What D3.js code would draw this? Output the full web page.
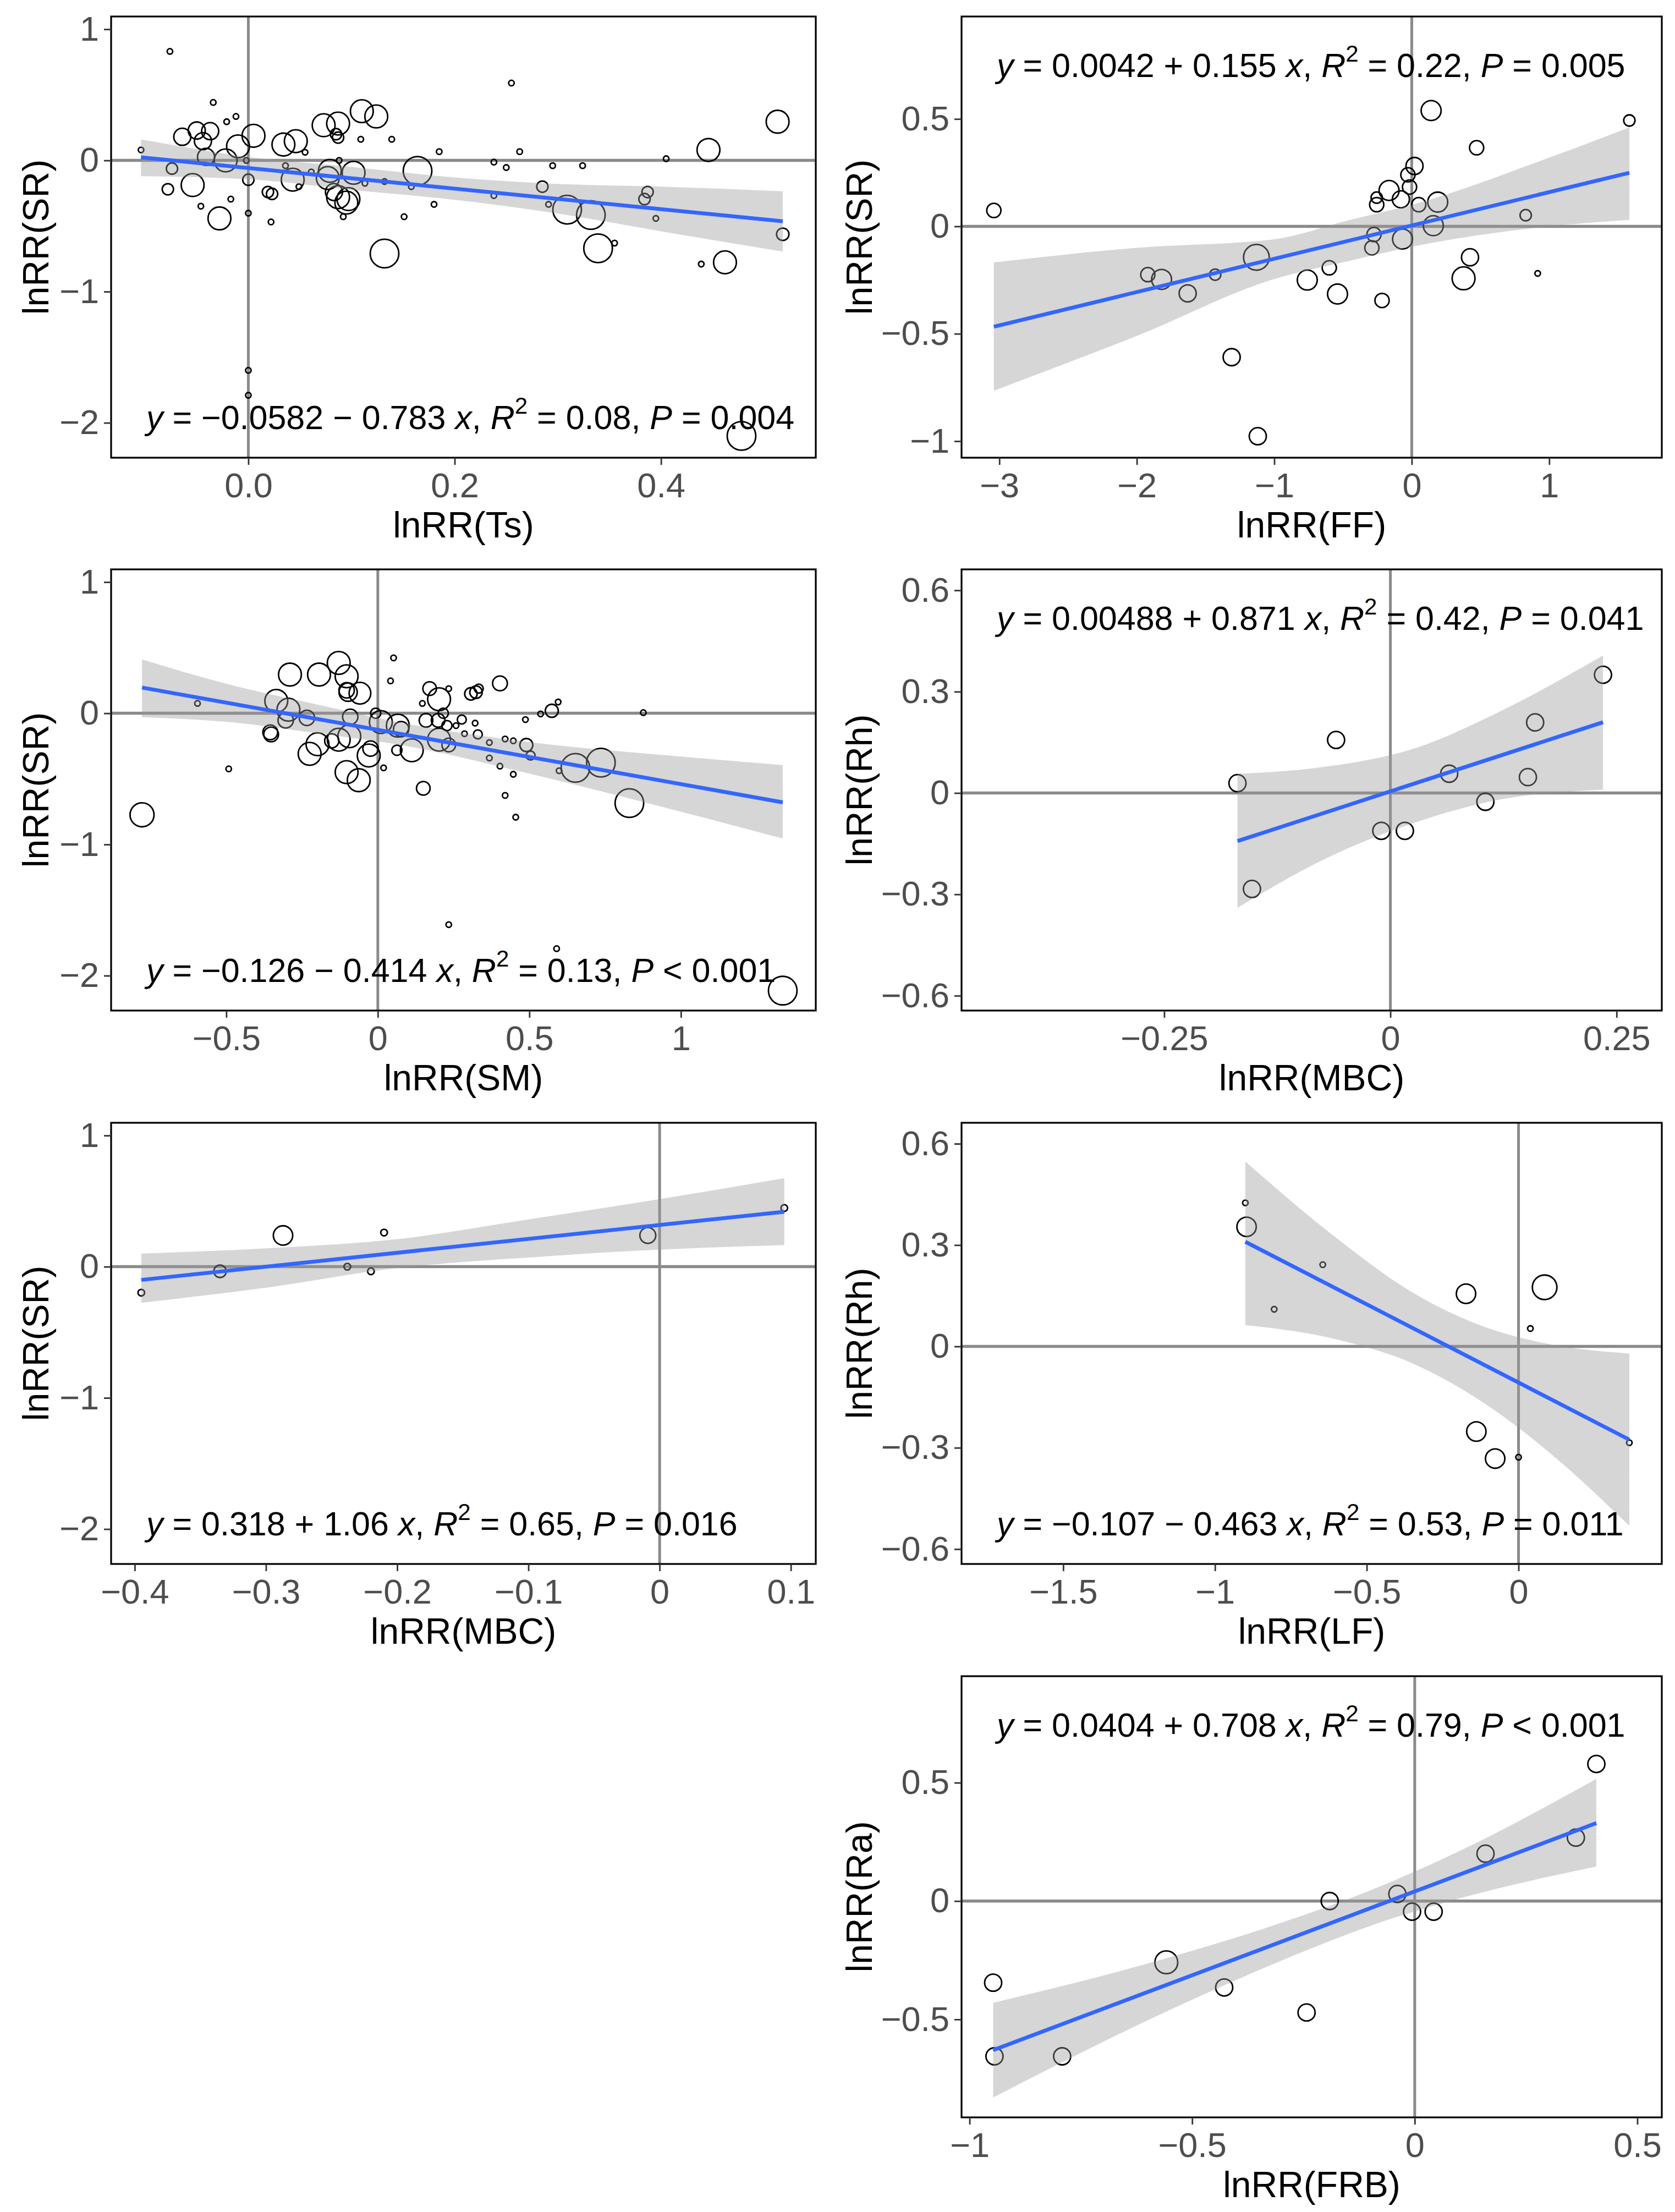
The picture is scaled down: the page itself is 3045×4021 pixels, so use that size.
<!DOCTYPE html>
<html>
<head>
<meta charset="utf-8">
<script src="https://cdn.jsdelivr.net/npm/d3@7"></script>
<style>
  body { margin: 0; background: #fff; }
  text { font-family: "Liberation Sans", Arial, sans-serif; }
</style>
</head>
<body>
<svg id="fig" width="3045" height="4021"></svg>
<script>
// ---- data ----
// panel 1: lnRR(Ts) vs lnRR(SR)
var tsX = [-0.076,-0.104,-0.034,-0.021,-0.012,-0.064,-0.050,-0.037,-0.044,-0.041,
  -0.022,-0.010,0.005,-0.002,0.0,-0.074,-0.078,-0.054,-0.046,-0.017,
  -0.028,0.0,0.0,0.0,0.022,0.019,0.023,0.034,0.046,0.036,
  0.043,0.049,0.055,0.061,0.073,0.087,0.085,0.087,0.088,0.079,
  0.077,0.083,0.087,0.095,0.097,0.092,0.102,0.113,0.109,0.110,
  0.124,0.139,0.132,0.132,0.151,0.164,0.158,0.180,0.185,0.255,
  0.238,0.250,0.238,0.263,0.285,0.295,0.291,0.309,0.324,0.332,
  0.339,0.355,0.387,0.384,0.395,0.405,0.446,0.439,0.462,0.513,
  0.518,0.478];
var tsY = [0.831,0.080,0.442,0.295,0.335,0.180,0.228,0.223,0.147,0.027,
  0.0,0.107,0.188,0.0,-0.147,-0.062,-0.220,-0.188,-0.349,-0.295,
  -0.442,-0.402,-1.60,-1.79,-0.469,-0.241,-0.255,0.121,0.147,-0.040,
  -0.147,-0.200,0.062,-0.088,0.268,0.281,0.200,0.174,0.0,-0.080,
  -0.134,-0.241,-0.280,-0.322,-0.295,-0.429,-0.094,-0.174,0.161,0.375,
  0.335,0.161,-0.710,-0.161,-0.429,-0.080,-0.200,-0.335,0.067,0.590,
  -0.013,-0.054,-0.268,0.067,-0.200,-0.040,-0.335,-0.375,-0.040,-0.416,
  -0.670,-0.630,-0.241,-0.295,-0.442,0.013,0.080,-0.790,-0.777,0.295,
  -0.563,-2.10];
var tsW = [1,1,1,1,1,3,3,3,3,3, 4,4,4,1,2,2,2,4,1,1, 4,1,1,1,1,2,2,4,4,1,
  4,1,1,1,4,4,2,2,1,4, 4,3,4,4,4,1,4,1,1,4, 4,1,5,1,1,5,1,1,1,1,
  1,1,1,1,2,1,1,5,1,5, 5,1,2,2,1,1,4,1,4,4, 2.2,5];

// panel 2: lnRR(FF) vs lnRR(SR)
var ffX = [-3.04,-1.92,-1.82,-1.63,-1.43,-1.13,-1.31,-1.12,-0.76,-0.60,
  -0.54,-0.216,-0.275,-0.29,-0.255,-0.255,-0.165,-0.079,-0.067,-0.028,
  -0.016,0.02,0.051,0.189,0.157,0.141,0.472,0.424,0.377,0.829,
  0.916,1.583];
var ffY = [0.074,-0.225,-0.247,-0.312,-0.225,-0.144,-0.609,-0.977,-0.25,-0.193,
  -0.315,-0.345,-0.038,-0.10,0.134,0.101,0.167,0.126,-0.059,0.24,
  0.183,0.281,0.101,0.113,0.003,0.539,0.366,-0.144,-0.242,0.052,
  -0.219,0.493];
var ffW = [2.5,2.5,3.5,3,2,4.5,3,3,3.5,2.5, 3.5,2.5,2.5,2.5,2,2.5,3.5,3,3.5,2.5,
  2.5,3,2.5,3.5,3.5,3.5,2.5,3,4,2, 1,2];

// panel 3: lnRR(SM) vs lnRR(SR)
var smX = [-0.778,-0.595,-0.492,-0.352,-0.355,-0.335,-0.295,-0.304,-0.29,-0.234,
  -0.225,-0.199,-0.194,-0.152,-0.129,-0.129,-0.103,-0.103,-0.098,-0.059,
  -0.091,-0.094,-0.103,-0.063,-0.03,-0.024,-0.007,0.01,0.019,0.042,
  0.052,0.066,0.077,0.063,0.112,0.150,0.147,0.159,0.171,0.202,
  0.199,0.216,0.228,0.234,0.202,0.234,0.234,0.258,0.277,0.286,
  0.307,0.324,0.333,0.321,0.330,0.368,0.368,0.403,0.420,0.447,
  0.403,0.420,0.447,0.455,0.487,0.49,0.504,0.537,0.574,0.595,
  0.59,0.598,0.652,0.736,0.830,0.876,1.336];
var smY = [-0.774,0.075,-0.424,-0.161,-0.145,0.094,0.027,-0.054,0.295,-0.035,
  -0.309,-0.236,0.295,-0.21,0.384,-0.201,0.282,0.175,0.161,0.153,
  -0.027,-0.175,-0.449,-0.51,-0.322,-0.269,0.0,-0.067,-0.416,0.247,
  0.422,-0.094,-0.121,-0.282,-0.282,-0.572,0.075,-0.054,0.188,0.107,
  -0.054,0.0,-0.094,0.188,-0.201,-0.242,-1.611,-0.094,-0.048,-0.156,
  0.148,0.161,0.188,-0.075,-0.161,-0.223,-0.341,0.228,-0.196,-0.21,
  -0.403,-0.626,-0.465,-0.792,-0.048,-0.242,-0.322,-0.005,0.019,0.086,
  -1.794,-0.438,-0.416,-0.376,-0.685,0.005,-2.114];
var smW = [4.2,1,1,2.6,2.6,4,4,2.7,4,2.7, 4,4,4,2.5,4,4,4,2.7,3.2,3.8,
  2.7,4,4,4,4,2.7,1.8,4,1,1, 1,4,2.7,1.8,4,2.4,1,2.4,2.4,4,
  2.4,1.8,1.8,1,4,2.4,1,1,1.6,1, 2.2,2.2,1.6,1,1.6,1,1,2.6,1,1,
  1,1,1,1,1,2.3,1.6,1,2.3,1, 1,1,5,5,5,1,5];

// panel 4: lnRR(MBC) vs lnRR(Rh)
var mbcRhX = [-0.169,-0.153,-0.060,-0.010,0.016,0.065,0.105,0.152,0.160,0.235];
var mbcRhY = [0.029,-0.284,0.157,-0.112,-0.112,0.057,-0.026,0.047,0.209,0.35];
var mbcRhW = [3,3,3,3,3,3,3,3,3,3];

// panel 5: lnRR(MBC) vs lnRR(SR)
var mbcSrX = [-0.395,-0.335,-0.287,-0.238,-0.22,-0.21,-0.009,0.095];
var mbcSrY = [-0.198,-0.035,0.238,0.0,-0.035,0.26,0.238,0.447];
var mbcSrW = [1.2,2.2,3.4,1.2,1.2,1.2,2.8,1.2];

// panel 6: lnRR(LF) vs lnRR(Rh)
var lfX = [-0.90,-0.896,-0.805,-0.645,-0.173,0.086,0.039,-0.139,-0.077,0.0,0.365];
var lfY = [0.425,0.354,0.110,0.242,0.156,0.175,0.053,-0.252,-0.332,-0.328,-0.285];
var lfW = [1,3.4,1,1,3.4,4.3,1,3.4,3.4,1,1];

// panel 7: lnRR(FRB) vs lnRR(Ra)
var frbX = [-0.947,-0.944,-0.792,-0.558,-0.428,-0.243,-0.191,-0.039,-0.006,0.0425,0.159,0.362,0.408];
var frbY = [-0.345,-0.656,-0.656,-0.259,-0.365,-0.471,0.0,0.03,-0.045,-0.045,0.2,0.268,0.579];
var frbW = [3,3,3,4,3,3,3,3,3,3,3,3,3];

// fitted lines (from the printed equations) and stats
var fitA = [-0.0582, 0.0042, -0.126, 0.00488, 0.318, -0.107, 0.0404];
var fitB = [-0.783, 0.155, -0.414, 0.871, 1.06, -0.463, 0.708];
var r2 = [0.08, 0.22, 0.13, 0.42, 0.65, 0.53, 0.79];
var pOps = ['=', '=', '<', '=', '=', '=', '<'];
var pVals = [0.004, 0.005, 0.001, 0.041, 0.016, 0.011, 0.001];

// confidence bands read at a few x positions
var bandX = [
  [-0.104, 0, 0.1, 0.2, 0.3, 0.4, 0.518],
  [-3.04, -2, -1, -0.45, 0, 1, 1.583],
  [-0.778, -0.5, -0.2, 0.1, 0.5, 1.0, 1.336],
  [-0.169, -0.08, 0.03, 0.12, 0.235],
  [-0.395, -0.3, -0.2, -0.1, 0, 0.095],
  [-0.90, -0.6, -0.35, -0.1, 0.1, 0.365],
  [-0.947, -0.6, -0.3, -0.1, 0.1, 0.408]
];
var bandHi = [
  [0.16, 0.027, -0.05, -0.13, -0.18, -0.20, -0.235],
  [-0.168, -0.10, -0.06, 0.03, 0.10, 0.32, 0.46],
  [0.41, 0.225, 0.067, -0.082, -0.22, -0.33, -0.395],
  [0.057, 0.075, 0.135, 0.24, 0.407],
  [0.10, 0.14, 0.21, 0.36, 0.515, 0.675],
  [0.547, 0.321, 0.16, 0.054, 0.007, -0.021],
  [-0.43, -0.264, -0.092, 0.045, 0.211, 0.516]
];
var bandLo = [
  [-0.12, -0.143, -0.225, -0.30, -0.405, -0.54, -0.695],
  [-0.765, -0.51, -0.245, -0.16, -0.095, 0.0, 0.03],
  [-0.03, -0.065, -0.153, -0.252, -0.46, -0.75, -0.955],
  [-0.34, -0.205, -0.085, -0.02, 0.01],
  [-0.275, -0.16, -0.01, 0.07, 0.13, 0.165],
  [0.063, 0.021, -0.05, -0.176, -0.313, -0.531],
  [-0.83, -0.504, -0.252, -0.105, 0.011, 0.146]
];

// tick values and labels
var ticksSR = [-2, -1, 0, 1];
var ticksSRLab = ['\u22122', '\u22121', '0', '1'];
var ticksRh = [-0.6, -0.3, 0, 0.3, 0.6];
var ticksRhLab = ['\u22120.6', '\u22120.3', '0', '0.3', '0.6'];

// ---- layout ----
var svg = d3.select('#fig');
var colL = [202, 1483], colR = [1748, 3021];
var rowTop = [30, 1035, 2041, 3047], rowH = 802;

var panels = [
  {col: colL, row: 0, xs: tsX, ys: tsY, ws: tsW, xd: [-0.133, 0.550], yd: [-2.266, 1.097],
   xt: [0, 0.2, 0.4], xl: ['0.0', '0.2', '0.4'], yt: ticksSR, yl: ticksSRLab,
   xTitle: 'lnRR(Ts)', yTitle: 'lnRR(SR)', eq: 'bottom'},
  {col: colR, row: 0, xs: ffX, ys: ffY, ws: ffW, xd: [-3.275, 1.819], yd: [-1.077, 0.977],
   xt: [-3, -2, -1, 0, 1], xl: ['\u22123', '\u22122', '\u22121', '0', '1'],
   yt: [-1, -0.5, 0, 0.5], yl: ['\u22121', '\u22120.5', '0', '0.5'],
   xTitle: 'lnRR(FF)', yTitle: 'lnRR(SR)', eq: 'top'},
  {col: colL, row: 1, xs: smX, ys: smY, ws: smW, xd: [-0.880, 1.445], yd: [-2.266, 1.097],
   xt: [-0.5, 0, 0.5, 1], xl: ['\u22120.5', '0', '0.5', '1'], yt: ticksSR, yl: ticksSRLab,
   xTitle: 'lnRR(SM)', yTitle: 'lnRR(SR)', eq: 'bottom'},
  {col: colR, row: 1, xs: mbcRhX, ys: mbcRhY, ws: mbcRhW, xd: [-0.474, 0.300], yd: [-0.644, 0.662],
   xt: [-0.25, 0, 0.25], xl: ['\u22120.25', '0', '0.25'], yt: ticksRh, yl: ticksRhLab,
   xTitle: 'lnRR(MBC)', yTitle: 'lnRR(Rh)', eq: 'top'},
  {col: colL, row: 2, xs: mbcSrX, ys: mbcSrY, ws: mbcSrW, xd: [-0.418, 0.119], yd: [-2.266, 1.097],
   xt: [-0.4, -0.3, -0.2, -0.1, 0, 0.1],
   xl: ['\u22120.4', '\u22120.3', '\u22120.2', '\u22120.1', '0', '0.1'], yt: ticksSR, yl: ticksSRLab,
   xTitle: 'lnRR(MBC)', yTitle: 'lnRR(SR)', eq: 'bottom'},
  {col: colR, row: 2, xs: lfX, ys: lfY, ws: lfW, xd: [-1.835, 0.472], yd: [-0.644, 0.662],
   xt: [-1.5, -1, -0.5, 0], xl: ['\u22121.5', '\u22121', '\u22120.5', '0'], yt: ticksRh, yl: ticksRhLab,
   xTitle: 'lnRR(LF)', yTitle: 'lnRR(Rh)', eq: 'bottom'},
  {col: colR, row: 3, xs: frbX, ys: frbY, ws: frbW, xd: [-1.018, 0.555], yd: [-0.914, 0.95],
   xt: [-1, -0.5, 0, 0.5], xl: ['\u22121', '\u22120.5', '0', '0.5'],
   yt: [-0.5, 0, 0.5], yl: ['\u22120.5', '0', '0.5'],
   xTitle: 'lnRR(FRB)', yTitle: 'lnRR(Ra)', eq: 'top'}
];

var rScale = d3.scaleLinear().domain([1, 5]).range([5, 26]);
var fmtCoef = d3.format('.3~g');
var fmtR2 = d3.format('.2f');
var fmtP = d3.format('.3f');

panels.forEach(function(p, i) {
  var x0 = p.col[0], x1 = p.col[1];
  var y0 = rowTop[p.row], y1 = y0 + rowH;
  var x = d3.scaleLinear().domain(p.xd).range([x0, x1]);
  var y = d3.scaleLinear().domain(p.yd).range([y1, y0]);

  svg.append('clipPath').attr('id', 'clip' + i)
    .append('rect').attr('x', x0).attr('y', y0).attr('width', x1 - x0).attr('height', rowH);
  var g = svg.append('g').attr('clip-path', 'url(#clip' + i + ')');

  // zero reference lines
  g.append('line').attr('x1', x0).attr('x2', x1).attr('y1', y(0)).attr('y2', y(0))
    .attr('stroke', '#8a8a8a').attr('stroke-width', 5.5);
  g.append('line').attr('x1', x(0)).attr('x2', x(0)).attr('y1', y0).attr('y2', y1)
    .attr('stroke', '#8a8a8a').attr('stroke-width', 5);

  // points
  var pts = p.xs.map(function(v, k) { return {x: v, y: p.ys[k], w: p.ws[k]}; });
  g.selectAll('circle.pt').data(pts).enter().append('circle')
    .attr('class', 'pt')
    .attr('cx', function(d) { return x(d.x); })
    .attr('cy', function(d) { return y(d.y); })
    .attr('r', function(d) { return rScale(d.w); })
    .attr('fill', 'none').attr('stroke', '#000').attr('stroke-width', 2.8);

  // confidence band
  var band = bandX[i].map(function(v, k) { return {x: v, lo: bandLo[i][k], hi: bandHi[i][k]}; });
  g.append('path').datum(band)
    .attr('d', d3.area().curve(d3.curveMonotoneX)
      .x(function(d) { return x(d.x); })
      .y0(function(d) { return y(d.lo); })
      .y1(function(d) { return y(d.hi); }))
    .attr('fill', '#999999').attr('fill-opacity', 0.4);

  // fitted line
  var ext = d3.extent(p.xs);
  g.append('line')
    .attr('x1', x(ext[0])).attr('y1', y(fitA[i] + fitB[i] * ext[0]))
    .attr('x2', x(ext[1])).attr('y2', y(fitA[i] + fitB[i] * ext[1]))
    .attr('stroke', '#3366FF').attr('stroke-width', 7);

  // panel border
  svg.append('rect').attr('x', x0).attr('y', y0).attr('width', x1 - x0).attr('height', rowH)
    .attr('fill', 'none').attr('stroke', '#000').attr('stroke-width', 3.2);

  // axes
  var ax = svg.append('g').attr('transform', 'translate(0,' + y1 + ')')
    .call(d3.axisBottom(x).tickValues(p.xt).tickSize(13).tickPadding(14)
      .tickFormat(function(d, k) { return p.xl[k]; }));
  var ay = svg.append('g').attr('transform', 'translate(' + x0 + ',0)')
    .call(d3.axisLeft(y).tickValues(p.yt).tickSize(13).tickPadding(9)
      .tickFormat(function(d, k) { return p.yl[k]; }));
  [ax, ay].forEach(function(a) {
    a.select('.domain').remove();
    a.selectAll('line').attr('stroke', '#333333').attr('stroke-width', 2.8);
    a.selectAll('text').attr('fill', '#4d4d4d')
      .style('font-family', '"Liberation Sans", Arial, sans-serif').style('font-size', '63px');
  });

  // axis titles
  svg.append('text').attr('x', (x0 + x1) / 2).attr('y', y1 + 145)
    .attr('text-anchor', 'middle').style('font-size', '66px').attr('fill', '#000')
    .text(p.xTitle);
  var ty = (p.col === colL) ? 88 : 1585;
  svg.append('text').attr('transform', 'translate(' + ty + ',' + (y0 + y1) / 2 + ') rotate(-90)')
    .attr('text-anchor', 'middle').style('font-size', '66px').attr('fill', '#000')
    .text(p.yTitle);

  // regression equation
  var ey = p.eq === 'top' ? y0 + 110 : y1 - 52;
  var t = svg.append('text').attr('x', x0 + 64).attr('y', ey)
    .style('font-size', '61px').attr('fill', '#000');
  t.append('tspan').style('font-style', 'italic').text('y');
  t.append('tspan').text(' = ' + fmtCoef(fitA[i]) + (fitB[i] < 0 ? ' \u2212 ' : ' + ') +
    fmtCoef(Math.abs(fitB[i])) + ' ');
  t.append('tspan').style('font-style', 'italic').text('x');
  t.append('tspan').text(', ');
  t.append('tspan').style('font-style', 'italic').text('R');
  t.append('tspan').attr('dy', -28).style('font-size', '42px').text('2');
  t.append('tspan').attr('dy', 28).text(' = ' + fmtR2(r2[i]) + ', ');
  t.append('tspan').style('font-style', 'italic').text('P');
  t.append('tspan').text(' ' + pOps[i] + ' ' + fmtP(pVals[i]));
});
</script>
</body>
</html>
